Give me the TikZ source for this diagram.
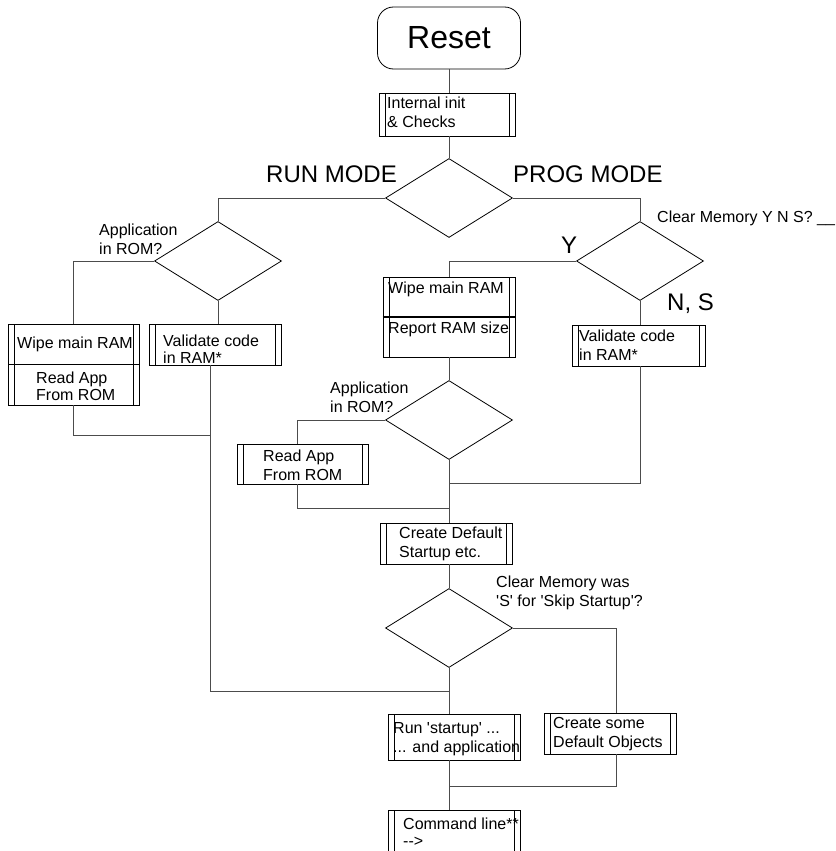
\documentclass[tikz,border=0pt]{standalone}
\usepackage{fontspec}
\setmainfont{Liberation Sans}
\usetikzlibrary{shapes.geometric,positioning}
\newcommand{\sq}{\textquotesingle}
\tikzset{
	proc/.style={draw, rectangle, line width=0.8pt, minimum width=132pt, minimum height=41pt, inner sep=0pt,
		path picture={\draw[line width=0.8pt] ([xshift=6pt]path picture bounding box.north west) -- ([xshift=6pt]path picture bounding box.south west);
					\draw[line width=0.8pt] ([xshift=-6pt]path picture bounding box.north east) -- ([xshift=-6pt]path picture bounding box.south east);}},
	dec/.style={draw, diamond, line width=0.8pt, minimum width=127pt, minimum height=79pt, inner sep=0pt},
	term/.style={draw, rectangle, rounded corners=16pt, line width=0.8pt, minimum width=143pt, minimum height=62pt, font=\fontsize{32}{36}\selectfont},
	conn/.style={draw=black!70, line width=0.9pt},
	txt/.style={font=\fontsize{16}{18.5}\selectfont, inner sep=0pt, align=left, anchor=base west},
	tight/.style={font=\fontsize{16}{16.5}\selectfont},
	lbl/.style={font=\fontsize{24}{28}\selectfont, inner sep=0pt, anchor=base west}
}
\begin{document}
\begin{tikzpicture}[x=1pt, y=-1pt]
					\useasboundingbox (0,0) rectangle (835,851);
					\clip (0,0) rectangle (835,851);

					\node[term] (reset) at (449,38) {Reset};
					\node[proc, minimum width=136pt, minimum height=43pt] (init) at (447,114.5) {};
					\node[dec] (mode) at (449,198) {};
					\node[dec] (appA) at (218,261) {};
					\node[dec] (clr) at (640,261) {};

					\node[proc, minimum width=131pt, minimum height=40pt] (wipeA) at (73.5,344) {};
					\node[proc, minimum width=131pt] (readA) at (73.5,384.5) {};
					\node[proc] (valA) at (215,344.5) {};

					\node[proc, minimum height=40pt] (wipeB) at (449,297) {};
					\node[proc, minimum height=40pt] (report) at (449,337) {};
					\draw[line width=2pt] (wipeB.south west) -- (wipeB.south east);
					\node[proc, minimum width=133pt] (valB) at (638.5,345.5) {};

					\node[dec] (appB) at (449,420) {};
					\node[proc, minimum width=131pt, minimum height=40pt] (readB) at (302.5,464) {};
					\node[proc] (create) at (446,543.5) {};
					\node[dec] (skip) at (449,628) {};
					\node[proc, minimum height=46pt] (run) at (454,737) {};
					\node[proc] (some) at (610,733.5) {};
					\node[proc, minimum height=50pt] (cmd) at (454,835) {};

					\coordinate (jA) at (210,435);
					\coordinate (jB) at (449,483);
					\coordinate (jC) at (449,508);
					\coordinate (jD) at (449,691);
					\coordinate (jE) at (449,786);

					% connectors
					\draw[conn] (reset.south) -- (reset.south |- init.north);
					\draw[conn] (init.south -| mode.north) -- (mode.north);
					\draw[conn] (mode.west) -| (appA.north);
					\draw[conn] (mode.east) -| (clr.north);
					\draw[conn] (appA.west) -| (wipeA.north);
					\draw[conn] (appA.south) -- (appA.south |- valA.north);
					\draw[conn] (readA.south) |- (jA);
					\draw[conn] (valA.south -| jA) -- (jA |- jD) -- (jD);
					\draw[conn] (clr.west) -| (wipeB.north);
					\draw[conn] (clr.south) -- (clr.south |- valB.north);
					\draw[conn] (report.south) -- (appB.north);
					\draw[conn] (appB.west) -| ([xshift=-5.5pt]readB.north);
					\draw[conn] (valB.south -| clr.south) |- (jB);
					\draw[conn] ([xshift=-5.5pt]readB.south) |- (jC);
					\draw[conn] (appB.south) -- (appB.south |- create.north);
					\draw[conn] (create.south -| skip.north) -- (skip.north);
					\draw[conn] (skip.east) -| ([xshift=6pt]some.north);
					\draw[conn] (skip.south) -- (skip.south |- run.north);
					\draw[conn] ([xshift=6pt]some.south) |- (jE);
					\draw[conn] (run.south -| jE) -- (jE |- cmd.north);

					% labels (base = last line)
					\node[lbl] (runL) at (266,182) {RUN MODE};
					\node[lbl] (progL) at (513,182) {PROG MODE};
					\node[lbl] (yL) at (561,253) {Y};
					\node[lbl] (nsL) at (667,310) {N, S};
					\node[txt] (clrT) at (657,222) {Clear Memory Y N S? \_\_};
					\node[txt] (appAT) at (99,254) {Application\\in ROM?};
					\node[txt] (appBT) at (330,412) {Application\\in ROM?};
					\node[txt] (skipT) at (496,606) {Clear Memory was\\\sq S\sq{} for \sq Skip Startup\sq ?};

					\node[txt] (initT) at (387,127) {Internal init\\\& Checks};
					\node[txt] (wipeAT) at (17,348) {Wipe main RAM};
					\node[txt, tight] (readAT) at (36,400) {Read App\\From ROM};
					\node[txt, tight] (valAT) at (163,363) {Validate code\\in RAM*};
					\node[txt] (wipeBT) at (388,293) {Wipe main RAM};
					\node[txt] (reportT) at (388,333) {Report RAM size};
					\node[txt] (valBT) at (579,360) {Validate code\\in RAM*};
					\node[txt] (readBT) at (263,480) {Read App\\From ROM};
					\node[txt] (createT) at (399,557) {Create Default\\Startup etc.};
					\node[txt] (runT) at (393,752) {Run \sq startup\sq{} ...\\... and application};
					\node[txt] (someT) at (553,747) {Create some\\Default Objects};
					\node[txt, tight] (cmdT) at (403,846) {Command line**\\-{}->};

				\end{tikzpicture}
\end{document}
